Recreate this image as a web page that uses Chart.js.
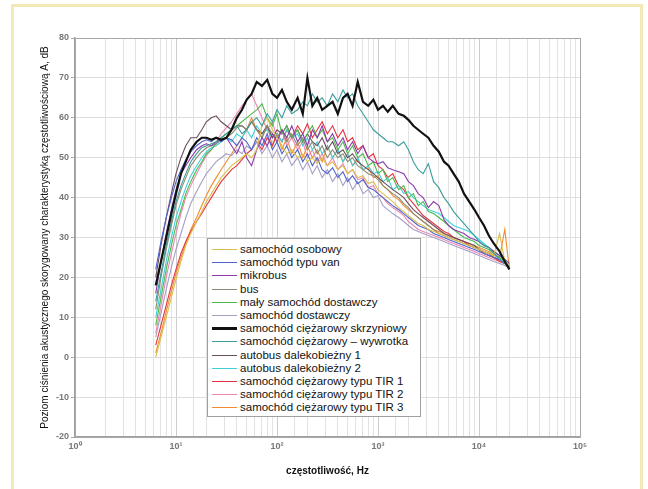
<!DOCTYPE html>
<html><head><meta charset="utf-8">
<script src="https://cdn.jsdelivr.net/npm/chart.js@4.4.0/dist/chart.umd.min.js"></script>
<style>
html,body{margin:0;padding:0;background:#fff;}
#wrap{position:relative;width:648px;height:489px;overflow:hidden;background:#fff;}
#frame{position:absolute;left:11px;top:4px;width:632px;height:520px;border:3px solid #f3e8b8;box-sizing:border-box;}
#c{position:absolute;left:0;top:0;}
#legend{position:absolute;left:207px;top:238px;width:214px;height:179px;box-sizing:border-box;border:1px solid #a0a0a0;background:#fff;font-family:"Liberation Sans",Arial,sans-serif;font-size:11.5px;color:#111;padding-top:4px;}
.row{height:13.2px;line-height:13.2px;position:relative;white-space:nowrap;}
.sw{position:absolute;left:4px;top:6px;width:25px;height:0;}
.tx{position:absolute;left:32px;top:0;}
</style></head>
<body>
<div id="wrap">
<div id="frame"></div>
<canvas id="c" width="648" height="489"></canvas>
<div id="legend"></div>
</div>
<script>
const FREQ = [6.3,7.1,8,9,10,11.2,12.5,14,16,18,20,22.4,25,28,31.5,35.5,40,45,50,56,63,71,80,90,100,112,125,140,160,180,200,224,250,280,315,355,400,450,500,560,630,710,800,900,1000,1120,1250,1400,1600,1800,2000,2240,2500,2800,3150,3550,4000,4500,5000,5600,6300,7100,8000,9000,10000,11200,12500,14000,16000,18000,20000];

const LABELS = ["samochód osobowy","samochód typu van","mikrobus","bus","mały samochód dostawczy","samochód dostawczy","samochód ciężarowy skrzyniowy","samochód ciężarowy – wywrotka","autobus dalekobieżny 1","autobus dalekobieżny 2","samochód ciężarowy typu TIR 1","samochód ciężarowy typu TIR 2","samochód ciężarowy typu TIR 3"];

const COLORS = ["#d9c04a","#4f63cf","#8e3aaa","#8c8a72","#4cb84c","#a59fc4","#111111","#3b9c9c","#6b4c5e","#3fd0dc","#e3343f","#ee86b4","#f28c2e"];

const OSOBOWY = [0,5,10,15,19.5,24,28,31,34,36.5, 39,41,43,45,46.5,48,49,50,51,50, 52,58,60,57,55,53,51,52,50,51, 49,50,48.5,50,48,49,47,48,46,47, 45,45.5,43.5,44,42,41,40,39,37.5,36.5, 35.5,34.5,33.5,33,32,31.5,31,30.5,30,29.5, 29,28.5,28,27.5,27,26.5,26,25.5,31,24, 23];
const VAN = [22,29,35,40,44,47,49.5,51.5,53,54, 54.5,54,55,54,55,54.5,53,55,54,52, 55,53,56,52,54,51,53,50,52,49, 51,48,50,47,46,47.5,45,46.5,44,45.5, 43.5,44.5,42.5,42,41,40,39,38,37,36, 35,34,33,32.5,32,31,30.5,30,29.5,29, 28.5,28,27.5,27,26.5,26,25.5,25,24.5,23.5, 23];
const MIKROBUS = [16,24,31,37,42,46,48,50,52,53, 53.5,53,54,54.5,55,53,51,54,50,48, 52,55,53,56,54,57,55,58,54,56, 53,57,55,58,54,56,53,55,52,54, 51,53,50,49,48.5,49,47.5,47,46.5,46, 44,43,41,40,37.5,39,38,34.5,33,32, 31.5,31,30,29.5,29,28,27.5,26.5,25.5,24.5, 23.5];
const BUS = [12,20,27,33,38,42,45,48,50,51.5, 52.5,53,53.5,54.5,55,56,57.5,58,57,59, 57,55,58,56,55,57,54,56,53,55, 52,54,51,53,50,52,50,51,49,50, 48,47,46,45.5,44.5,43,42,41,40,38.5, 37.5,36,35,34,33,32,31,30.5,30,29.5, 29,28.5,28,27.5,27,26.5,26,25,24.5,23.5, 22.5];
const MALY_DOSTAWCZY = [8,15,22,28,33,37,41,44,47,49, 51,52,53.5,55,56,57,58,59,60,61, 62,63.5,60,58,61,56,58,55,57,54, 56,58,55,57,54,55,52,54,51,53, 50,51,48,49,46,47,44,45,42,43, 40,41,38,39,36.5,36,35,34,33,32, 31,30,29.5,29,28,27.5,27,26,25,24, 23];
const DOSTAWCZY = [5,11,17,22.5,27,31,35,38.5,41.5,44, 46,47.5,49,50,51,50.5,52,51,53,52, 54,51,53,50,52,49,51,48,50,47, 49,46,48,45,47,44,46,43,45,42, 44,41,42,40,40.5,38,37,36,35,34, 33,32,31.5,31,30.5,30,29.5,29,28.5,28, 27.5,27,26.5,26,25.5,25,24.5,24,23.5,23, 22.5];
const SKRZYNIOWY = [18,24,30,36,41,46,49,52,54,55, 55,54.5,55,54.5,55,57,60,62,64.5,66, 69,68,69.5,66,65,67,64,62,65,61, 70,63,65,62,63,64,61,65,66,63, 69,64,63,64.5,62,63,61.5,63,61,60.5, 59.5,58,57,56,55,53,51.5,49,48,46, 44,41,39,37,35,33,30.5,28.5,26.5,24, 22];
const WYWROTKA = [14,21,28,34,39,43,46,49,51,52.5, 53,53.5,54,55,56,57,58,56,57,59, 60,58,61,59,62,60,63,61,62,64, 63,66,64,65,63,66,64,67,65,66, 63,61,59,57,56,55,54,54,53,54, 52,49,47,46,48.5,44,42.5,40,38.5,36.5, 35,33.5,32,30.5,29,28,27.5,26,24.5,23.5, 22.5];
const AUTOBUS1 = [20,28,35,41,46,50,53,55,55,57, 59,60,60.5,59,58,57,58,58,57,59, 57,56,58,55,57,56,58,55,57,54, 56,54,53,55,52,54,51,52,50,51, 49,48,47,46,45,44,43,42,41,40, 38.5,37,36,35,34,33,32,31,30.5,30, 29.5,29,28.5,28,27,26.5,26,25,24.5,23.5, 22.5];
const AUTOBUS2 = [10,17,24,30,35,39,42.5,45.5,48,50, 51.5,52.5,53,54,55,54,56,55,57,55, 58,56,57,55,56,54,57,55,56,53, 55,52,54,51,53,50,52,49,51,48, 50,47,48,46,46.5,44,45,42,43,41, 41.5,40,39,38,37,36.5,36,35,34,33, 32.5,32,31.5,30.5,29.5,28.5,27.5,26.5,25.5,24.5, 23.5];
const TIR1 = [3,8,13,18,22,26,29,31.5,34,36, 38,40,42,44,45.5,47,48,49.5,51,52, 54,52,55,53,56,54,57,55,58,56, 58.5,55,57,59,56,58,55,57,54,55, 52,53,50,51,48,47,45,46,43,42, 40,38.5,37,35.5,34.5,33.5,32.5,31.5,31,30, 29.5,29,28,27.5,27,26,25.5,25,24,23.5, 22.5];
const TIR2 = [6,13,20,26,31,36,40,43,46,48.5, 50.5,52,54,56,57.5,59,61,63,64.5,66, 63,60,57,59,55,57,53,55,52,54, 50,52,49,51,48,50,47,48.5,46,47, 44.5,45,42.5,43,41,40,38.5,37.5,36.5,35.5, 34,33,32,31.5,31,30.5,30,29.5,29,28.5, 28,27.5,27,26.5,26,25.5,25,24.5,24,23.5, 23];
const TIR3 = [1,6,11.5,16.5,21,25,28.5,32,35,38, 40.5,43,45,47,49,51,53,55,57,60, 57,55,58,53,56,52,55,51,54,50, 53,50,52,49,53,50,52,49,51,48, 49.5,47,47.5,45,45.5,43,42,40.5,39.5,38, 37,36,35,34,33,32,31.5,31,30.5,30, 29.5,29,28.5,28,27.5,27,26.5,25.5,25,32, 22];

const SERIES = [OSOBOWY,VAN,MIKROBUS,BUS,MALY_DOSTAWCZY,DOSTAWCZY,SKRZYNIOWY,WYWROTKA,AUTOBUS1,AUTOBUS2,TIR1,TIR2,TIR3];

const X_TICK_LABELS = ["10⁰","10¹","10²","10³","10⁴","10⁵"];
const Y_MIN = -20, Y_MAX = 80, Y_STEP = 10;
const X_MIN = 1, X_MAX = 100000;

Chart.defaults.font.family = '"Liberation Sans", Arial, sans-serif';

const boxPlugin = {
  id: 'box',
  afterDatasetsDraw(chart) {
    const a = chart.chartArea, ctx = chart.ctx;
    ctx.save();
    ctx.strokeStyle = '#a8a8a8';
    ctx.lineWidth = 1;
    ctx.strokeRect(a.left + 0.5, a.top + 0.5, a.right - a.left, a.bottom - a.top);
    ctx.restore();
  }
};

function isDecade(v) {
  const l = Math.log10(v);
  return Math.abs(l - Math.round(l)) < 1e-9;
}

const datasets = SERIES.map((s, i) => ({
  label: LABELS[i],
  data: FREQ.map((f, j) => ({x: f, y: s[j]})),
  borderColor: COLORS[i],
  backgroundColor: COLORS[i],
  borderWidth: i === 6 ? 2.2 : 1.1,
  pointRadius: 0,
  tension: 0,
  fill: false,
  order: i === 6 ? -1 : (i === 7 ? 0 : 1)
}));

new Chart(document.getElementById('c'), {
  type: 'line',
  data: {datasets},
  options: {
    responsive: false,
    animation: false,
    devicePixelRatio: 1,
    layout: {padding: {top: 38, right: 68, bottom: 12, left: 0}},
    plugins: {legend: {display: false}, tooltip: {enabled: false}},
    scales: {
      x: {
        type: 'logarithmic', min: X_MIN, max: X_MAX,
        afterFit(s) { s.height = 40; },
        ticks: {
          autoSkip: false, maxRotation: 0, minRotation: 0, color: '#777', padding: 4,
          font: {size: 9, weight: 'bold'},
          callback(v) { return isDecade(v) ? X_TICK_LABELS[Math.round(Math.log10(v))] : ''; }
        },
        grid: {
          drawTicks: false,
          color: (c) => (c.tick && isDecade(c.tick.value)) ? '#cdcdcd' : '#e2e2e2',
          lineWidth: 1
        },
        border: {color: '#a0a0a0', width: 1.5},
        title: {display: true, text: 'częstotliwość, Hz', color: '#111', font: {size: 10, weight: 'bold'}, padding: {top: 0, bottom: 0}}
      },
      y: {
        min: Y_MIN, max: Y_MAX,
        afterFit(s) { s.width = 75; },
        ticks: {stepSize: Y_STEP, color: '#777', padding: 2, font: {size: 9, weight: 'bold'}},
        grid: {color: '#dedede', tickLength: 4, tickColor: '#aaa'},
        border: {color: '#a0a0a0', width: 1.5},
        title: {display: true, text: 'Poziom ciśnienia akustycznego skorygowany charakterystyką częstotliwościową A, dB', color: '#111', font: {size: 10}, padding: {top: 39, bottom: 0}}
      }
    }
  },
  plugins: [boxPlugin]
});

const leg = document.getElementById('legend');
LABELS.forEach((lab, i) => {
  const row = document.createElement('div');
  row.className = 'row';
  const sw = document.createElement('span');
  sw.className = 'sw';
  sw.style.borderTop = (i === 6 ? 3 : 1.6) + 'px solid ' + COLORS[i];
  if (i === 6) sw.style.top = '5px';
  const tx = document.createElement('span');
  tx.className = 'tx';
  tx.textContent = lab;
  row.appendChild(sw); row.appendChild(tx);
  leg.appendChild(row);
});
</script>
</body></html>
